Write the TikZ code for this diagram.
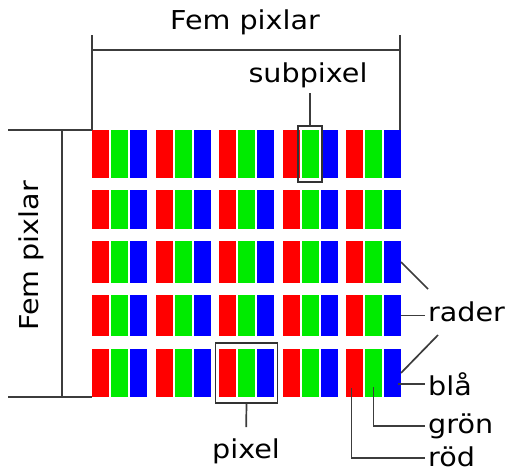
\documentclass[tikz,border=0pt]{standalone}
\usepackage{fontspec}
\setmainfont{DejaVu Sans}[FakeStretch=1.1]
\usetikzlibrary{fit}
\definecolor{pxred}{RGB}{255,0,0}
\definecolor{pxgreen}{RGB}{0,235,0}
\definecolor{pxblue}{RGB}{0,0,255}
\definecolor{leader}{RGB}{60,60,60}

\begin{document}
\begin{tikzpicture}[x=1pt, y=-1pt,
    sub/.style={inner sep=0pt, outer sep=0pt, minimum width=17pt, anchor=north west},
    lbl/.style={inner sep=0pt, font=\fontsize{26}{30}\selectfont},
    leadline/.style={line width=1.7pt, draw=leader},
    frame/.style={draw=black!80, line width=1.7pt, inner sep=0pt}]
    \useasboundingbox (0,0) rectangle (509,471);
    % five rows of five pixels, three subpixels each
    \foreach \r/\t/\b in {1/130/178, 2/190/229, 3/241/283, 4/295/336, 5/349/397}{
      \pgfmathsetmacro{\h}{\b-\t}
      \foreach \p in {1,...,5}{
        \pgfmathsetmacro{\x}{92+63.5*(\p-1)}
        \node[sub, fill=pxred, minimum height=\h pt] (r-\r-\p) at (\x,\t) {};
        \node[sub, fill=pxgreen, minimum height=\h pt] (g-\r-\p) at (\x+19,\t) {};
        \node[sub, fill=pxblue, minimum height=\h pt] (b-\r-\p) at (\x+38,\t) {};
      }
    }
    % width
    \node[lbl] (topcap) at (245,22) {Fem pixlar};
    \coordinate (top-l) at (92,35);
    \coordinate (top-r) at (400,35);
    \draw[leadline] (top-l) -- (r-1-1.north west);
    \draw[leadline] (top-r) -- (top-r |- b-1-5.north);
    \draw[leadline] (top-l |- 0,50) -- (top-r |- 0,50);
    % height
    \node[lbl, rotate=90] (sidecap) at (31,256) {Fem pixlar};
    \coordinate (left-t) at (8,130);
    \coordinate (left-b) at (8,397);
    \coordinate (dim-l) at (62,0);
    \draw[leadline] (left-t) -- (r-1-1.north west);
    \draw[leadline] (left-b) -- (r-5-1.south west);
    \draw[leadline] (dim-l |- left-t) -- (dim-l |- left-b);
    % subpixel
    \node[frame, fit=(g-1-4), inner xsep=3.5pt, inner ysep=4pt] (subbox) {};
    \node[lbl, anchor=base] (subcap) at (308,82) {subpixel};
    \draw[leadline, shorten >=5pt] (subbox.north) -- (subbox.north |- subcap.south);
    % pixel
    \node[frame, fit=(r-5-3)(b-5-3), inner xsep=3.5pt, inner ysep=6pt] (pixbox) {};
    \node[lbl, anchor=base] (pixcap) at (246,458) {pixel};
    \draw[leadline, shorten >=11pt] (pixbox.south) -- (pixcap.north);
    % rows and colours
    \node[lbl, anchor=base west] (rader) at (428,321) {rader};
    \node[lbl, anchor=base west] (bla) at (428,395) {blå};
    \node[lbl, anchor=base west] (gron) at (428,433) {grön};
    \node[lbl, anchor=base west] (rod) at (428,466) {röd};
    \coordinate (rader-up) at (428,289);
    \coordinate (rader-dn) at (438,335);
    \draw[leadline] (b-3-5.east) -- (rader-up);
    \draw[leadline] (b-4-5.east) -- ([xshift=-3pt]b-4-5.east -| rader.west);
    \draw[leadline] (b-5-5.east) -- (rader-dn);
    \draw[leadline] ([xshift=-3pt]b-5-5.east |- bla.west) -- ([xshift=-3pt]bla.west);
    \draw[leadline] ([yshift=-14pt]g-5-5.center) |- ([xshift=-3pt]gron.west);
    \draw[leadline] ([xshift=-3pt, yshift=-15pt]r-5-5.center) |- ([xshift=-3pt, yshift=-2pt]rod.west);
\end{tikzpicture}
\end{document}
